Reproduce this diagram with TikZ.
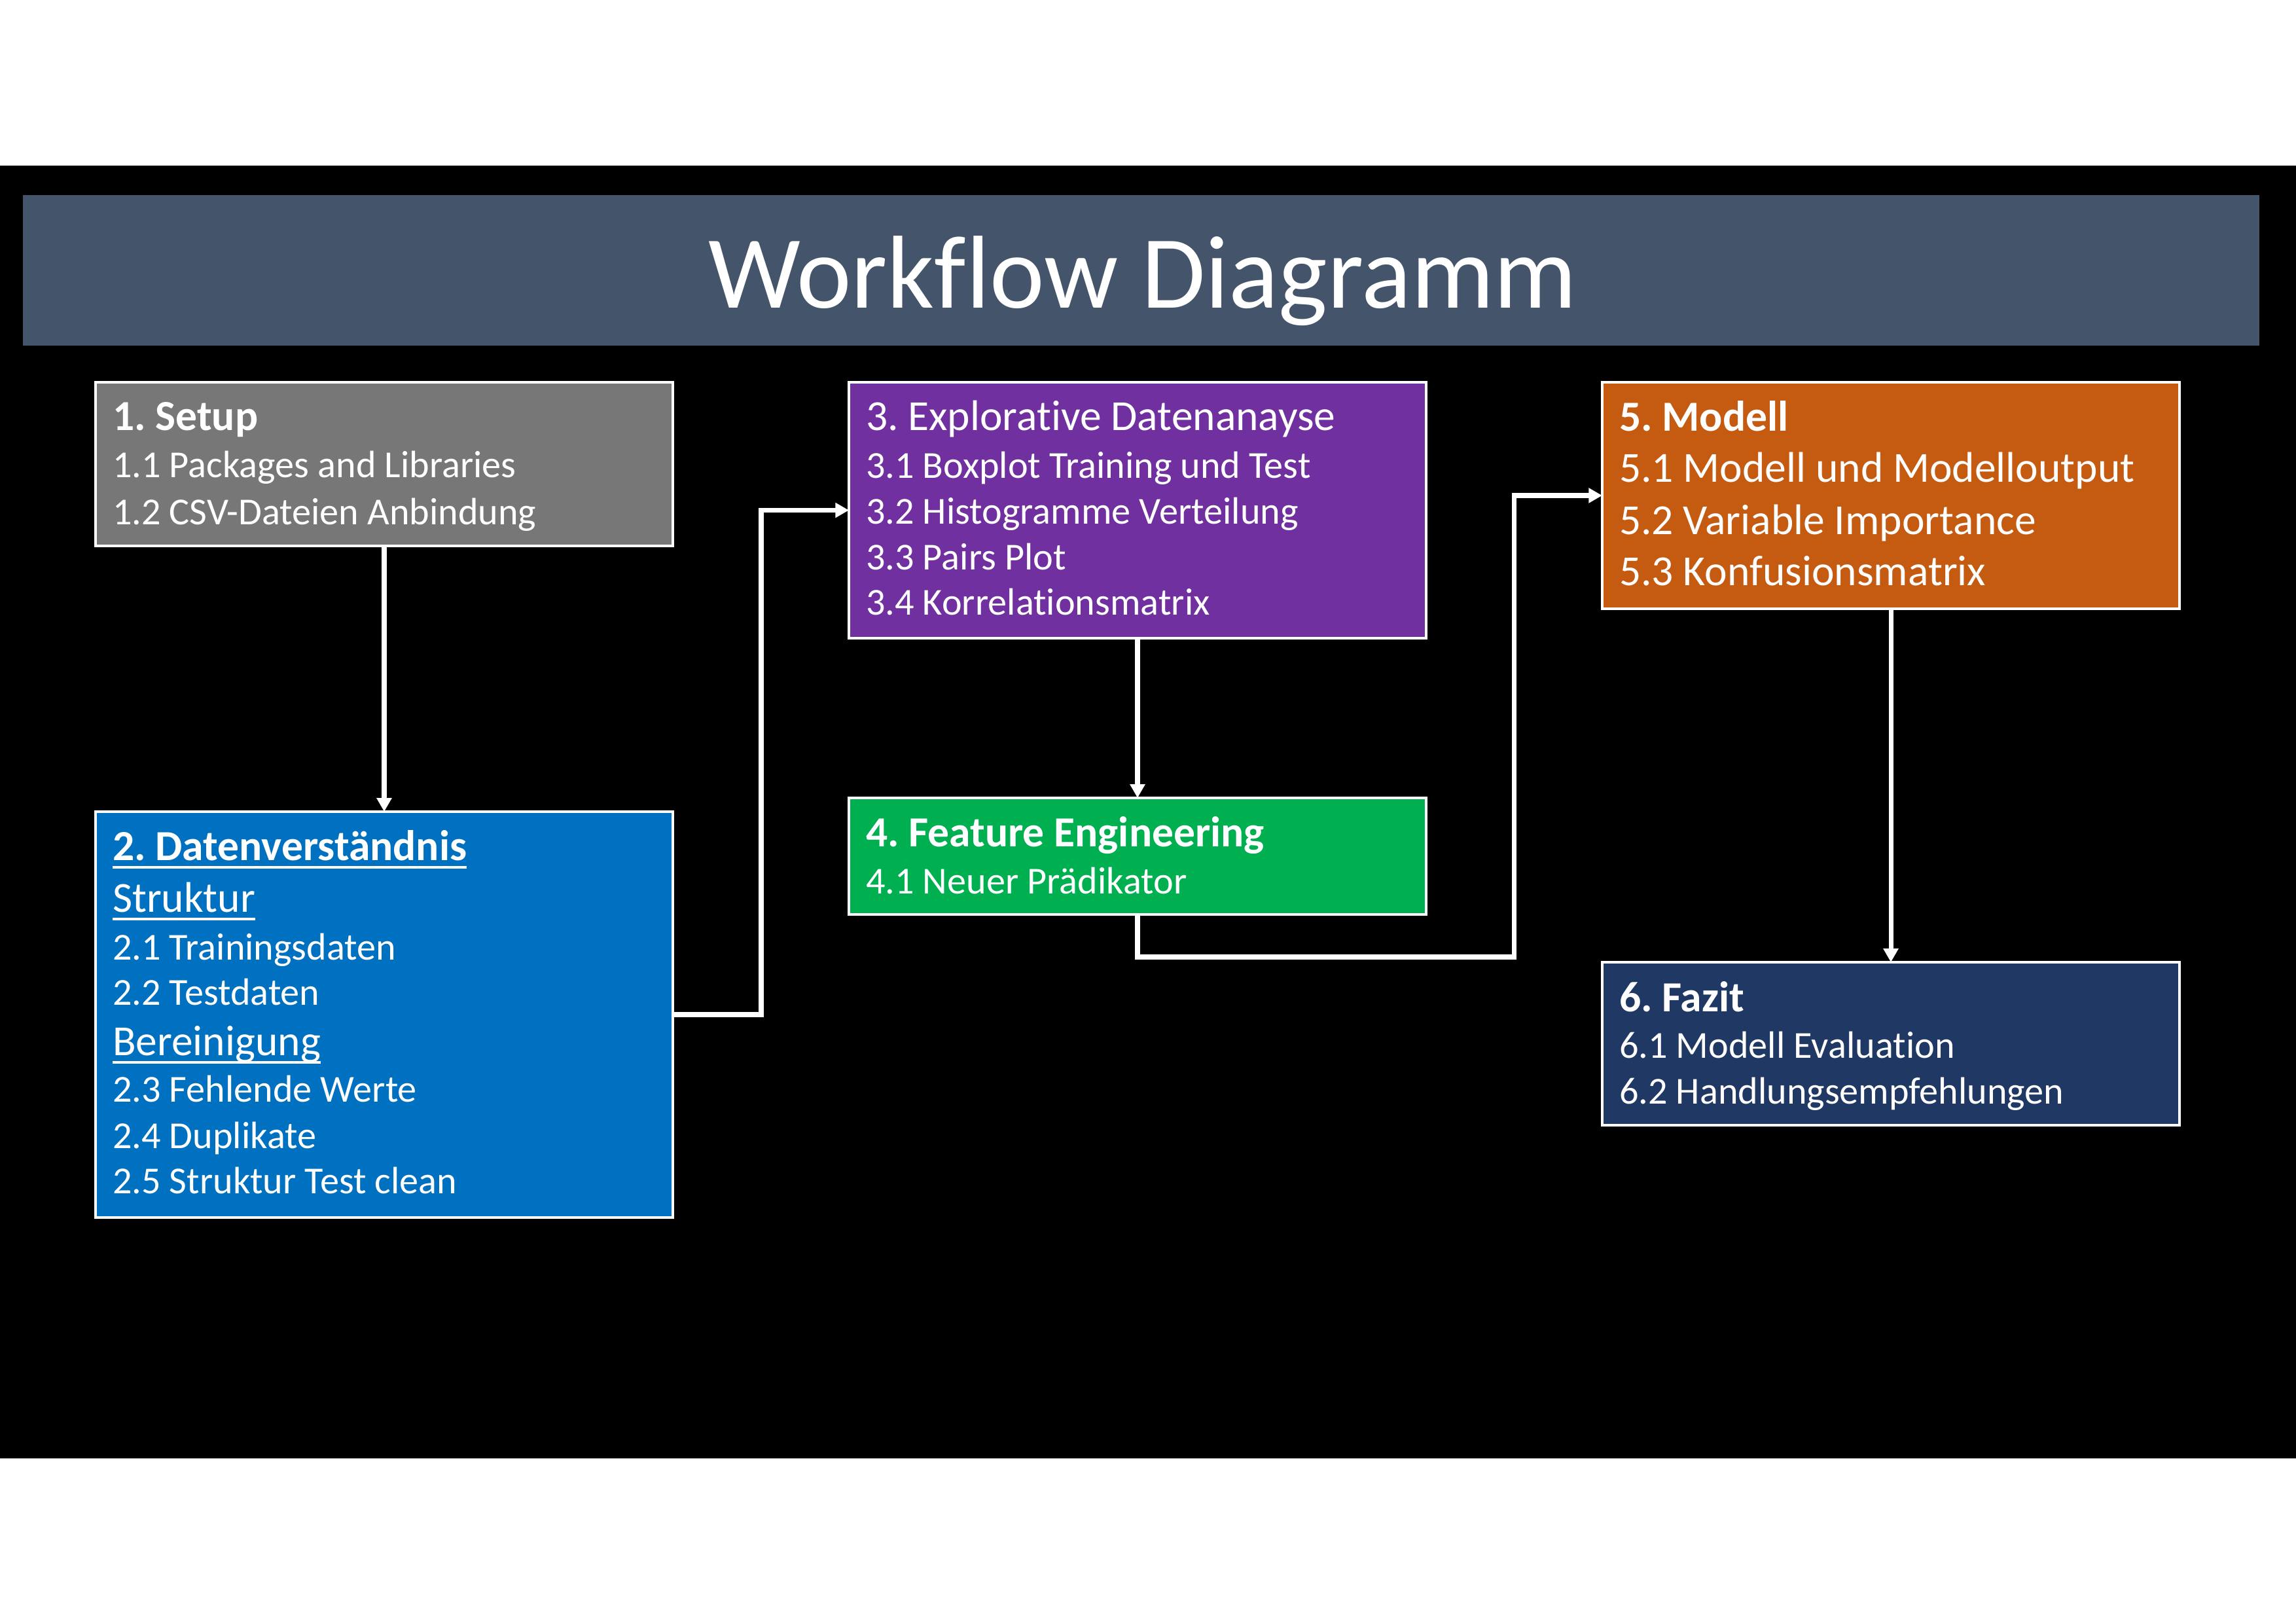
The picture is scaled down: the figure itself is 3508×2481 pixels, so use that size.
\documentclass[tikz,border=0pt]{standalone}
\usepackage{fontspec}
\setmainfont{Carlito}[Ligatures=NoCommon]
\usetikzlibrary{arrows.meta,calc,fit}
\definecolor{titlebar}{HTML}{44546A}
\definecolor{setupgray}{HTML}{777777}
\definecolor{datenblue}{HTML}{0070C0}
\definecolor{edapurple}{HTML}{7030A0}
\definecolor{featgreen}{HTML}{00B050}
\definecolor{modorange}{HTML}{C55A11}
\definecolor{fazitnavy}{HTML}{203864}
\frenchspacing
\begin{document}
\begin{tikzpicture}[x=0.084664mm,y=-0.084664mm,
  box/.style={draw=white,line width=0.95pt,inner sep=0pt,outer sep=0pt},
  txt/.style={anchor=base west,inner sep=0pt,outer sep=0pt,text=white},
  body/.style={txt,font=\fontsize{14.03}{17}\selectfont},
  head/.style={txt,font=\fontsize{15.79}{19}\selectfont},
  headb/.style={txt,font=\fontsize{15.79}{19}\selectfont\bfseries},
  conn/.style={draw=white,line width=1.7pt},
  arr/.style={conn,-{Triangle[length=5pt,width=5.3pt]}},
  ul/.style={draw=white,line width=0.8pt}
]
\useasboundingbox (0,0) rectangle (3508,2481);
\fill[white] (0,0) rectangle (3508,2481);
\fill[black] (0,253) rectangle (3508,2228);

% title bar
\node[fill=titlebar,inner sep=0pt,outer sep=0pt,fit={(35,298) (3452,528)}] (bar) {};
\node[anchor=base,inner sep=0pt,text=white,font=\fontsize{38.15}{46}\selectfont] (title) at (1746,471) {Workflow Diagramm};

% boxes
\node[box,fill=setupgray,fit={(146,584) (1028,834)}] (setup) {};
\node[box,fill=datenblue,fit={(146,1240) (1028,1860)}] (daten) {};
\node[box,fill=edapurple,fit={(1297,584) (2179,975)}] (eda) {};
\node[box,fill=featgreen,fit={(1297,1219) (2179,1397)}] (feat) {};
\node[box,fill=modorange,fit={(2448,584) (3330,930)}] (modell) {};
\node[box,fill=fazitnavy,fit={(2448,1470) (3330,1719)}] (fazit) {};

% setup text
\node[headb] (s0) at (172,658) {1. Setup};
\node[body] (s1) at (172,730) {1.1 Packages and Libraries};
\node[body] (s2) at (172,802) {1.2 CSV-Dateien Anbindung};

% daten text
\node[headb] (d0) at (172,1314) {2. Datenverständnis};
\node[head] (d1) at (172,1393) {Struktur};
\node[body] (d2) at (172,1466) {2.1 Trainingsdaten};
\node[body] (d3) at (172,1535) {2.2 Testdaten};
\node[head] (d4) at (172,1612) {Bereinigung};
\node[body] (d5) at (172,1683) {2.3 Fehlende Werte};
\node[body] (d6) at (172,1754) {2.4 Duplikate};
\node[body] (d7) at (172,1823) {2.5 Struktur Test clean};
\draw[ul,line width=0.95pt] ($(d0.base west)+(0,11)$) -- ($(d0.base east)+(0,11)$);
\draw[ul] ($(d1.base west)+(0,11)$) -- ($(d1.base east)+(0,11)$);
\draw[ul] ($(d4.base west)+(0,11)$) -- ($(d4.base east)+(0,11)$);

% eda text
\node[head] (e0) at (1323,658) {3. Explorative Datenanayse};
\node[body] (e1) at (1323,731) {3.1 Boxplot Training und Test};
\node[body] (e2) at (1323,801) {3.2 Histogramme Verteilung};
\node[body] (e3) at (1323,871) {3.3 Pairs Plot};
\node[body] (e4) at (1323,940) {3.4 Korrelationsmatrix};

% feature text
\node[headb] (f0) at (1323,1294) {4. Feature Engineering};
\node[body] (f1) at (1323,1365) {4.1 Neuer Prädikator};

% modell text
\node[headb] (m0) at (2474,659) {5. Modell};
\node[head] (m1) at (2474,737) {5.1 Modell und Modelloutput};
\node[head] (m2) at (2474,817) {5.2 Variable Importance};
\node[head] (m3) at (2474,895) {5.3 Konfusionsmatrix};

% fazit text
\node[headb] (z0) at (2474,1545) {6. Fazit};
\node[body] (z1) at (2474,1616) {6.1 Modell Evaluation};
\node[body] (z2) at (2474,1686) {6.2 Handlungsempfehlungen};

% connectors
\draw[arr] (setup.south) -- (daten.north);
\draw[arr] (daten.east) -- ++(135,0) |- (eda.west);
\draw[arr] (eda.south) -- (feat.north);
\draw[arr] (feat.south) -- ++(0,65) -| ($(modell.west)+(-135,0)$) -- (modell.west);
\draw[arr] (modell.south) -- (fazit.north);
\end{tikzpicture}
\end{document}
